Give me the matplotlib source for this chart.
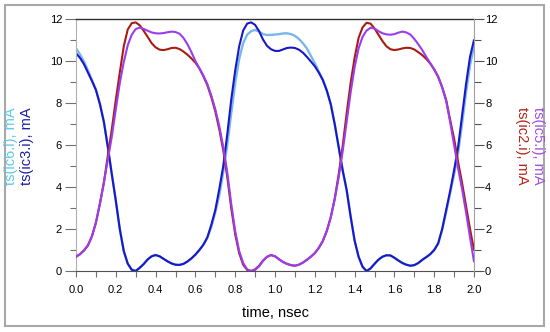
import numpy as np
import matplotlib
matplotlib.use("Agg")
import matplotlib.pyplot as plt
from matplotlib.ticker import MultipleLocator
from matplotlib.patches import Rectangle

plt.rcParams['font.family'] = ['Liberation Sans', 'DejaVu Sans']

# time grid, nsec
time_ns = np.linspace(0.0, 2.0, 101)

ic3 = [10.37, 10.15, 9.85, 9.45, 9.05, 8.62, 7.95, 7.1, 5.9, 4.6,
       3.35, 2.0, 0.95, 0.35, 0.06, 0.0, 0.15, 0.33, 0.55, 0.7,
       0.76, 0.7, 0.58, 0.46, 0.36, 0.3, 0.29, 0.34, 0.45, 0.6,
       0.78, 1.0, 1.25, 1.6, 2.2, 2.9, 3.9, 5.0, 6.5, 8.15,
       9.55, 10.7, 11.45, 11.78, 11.84, 11.72, 11.42, 11.02, 10.72, 10.56,
       10.48, 10.48, 10.55, 10.62, 10.64, 10.62, 10.54, 10.4, 10.2, 9.98,
       9.75, 9.45, 9.1, 8.6, 7.95, 7.0, 5.9, 4.8, 3.86, 2.6,
       1.45, 0.68, 0.2, 0.0, 0.12, 0.34, 0.54, 0.68, 0.75, 0.74,
       0.63, 0.5, 0.38, 0.3, 0.25, 0.28, 0.38, 0.53, 0.66, 0.8,
       1.0, 1.32, 2.0, 2.9, 3.8, 4.8, 5.9, 7.4, 8.9, 10.2,
       11.0]

ic6 = [10.6, 10.32, 9.98, 9.55, 9.1, 8.65, 7.98, 7.12, 5.92, 4.62,
       3.36, 2.0, 0.95, 0.35, 0.06, 0.0, 0.15, 0.33, 0.55, 0.7,
       0.76, 0.7, 0.58, 0.46, 0.36, 0.3, 0.29, 0.34, 0.45, 0.6,
       0.78, 1.0, 1.25, 1.58, 2.1, 2.8, 3.6, 4.7, 6.0, 7.5,
       8.95, 10.1, 10.85, 11.25, 11.42, 11.48, 11.4, 11.28, 11.24, 11.24,
       11.26, 11.28, 11.31, 11.32, 11.28, 11.2, 11.05, 10.85, 10.6, 10.25,
       9.9, 9.5, 9.12, 8.6, 7.95, 7.0, 5.9, 4.8, 3.86, 2.6,
       1.45, 0.68, 0.2, 0.0, 0.12, 0.34, 0.54, 0.68, 0.75, 0.74,
       0.63, 0.5, 0.38, 0.3, 0.25, 0.28, 0.38, 0.53, 0.66, 0.8,
       1.0, 1.3, 1.95, 2.8, 3.7, 4.6, 5.6, 7.0, 8.5, 9.8,
       10.7]

ic2 = [0.68, 0.8, 0.98, 1.22, 1.65, 2.3, 3.2, 4.2, 5.5, 6.75,
       8.15, 9.45, 10.7, 11.5, 11.8, 11.84, 11.7, 11.44, 11.15, 10.85,
       10.65, 10.54, 10.52, 10.56, 10.62, 10.63, 10.57, 10.45, 10.3, 10.12,
       9.92, 9.65, 9.28, 8.85, 8.28, 7.6, 6.75, 5.75, 4.5, 3.0,
       1.75, 0.85, 0.3, 0.05, 0.0, 0.08, 0.25, 0.5, 0.68, 0.76,
       0.7, 0.56, 0.43, 0.34, 0.28, 0.25, 0.3, 0.4, 0.53, 0.68,
       0.85, 1.1, 1.42, 1.9, 2.55, 3.45, 4.6, 5.95, 7.5, 8.95,
       10.15, 11.1, 11.6, 11.82, 11.78, 11.55, 11.25, 10.95, 10.7, 10.56,
       10.52, 10.55, 10.6, 10.63, 10.62, 10.55, 10.42, 10.28, 10.1, 9.88,
       9.6, 9.25, 8.75, 8.15, 7.2, 6.3, 5.2, 4.2, 3.1, 2.0,
       1.0]

ic5 = [0.68, 0.8, 0.98, 1.22, 1.65, 2.3, 3.2, 4.2, 5.3, 6.4,
       7.7, 8.95, 9.95, 10.75, 11.25, 11.52, 11.59, 11.53, 11.44, 11.36,
       11.32, 11.31, 11.33, 11.37, 11.4, 11.38, 11.3, 11.1, 10.8, 10.42,
       10.0, 9.65, 9.3, 8.9, 8.35, 7.7, 6.9, 5.9, 4.7, 3.2,
       1.9, 0.95, 0.38, 0.08, 0.0, 0.05, 0.22, 0.48, 0.67, 0.76,
       0.7, 0.56, 0.43, 0.34, 0.28, 0.25, 0.3, 0.4, 0.53, 0.68,
       0.85, 1.1, 1.42, 1.9, 2.55, 3.4, 4.45, 5.7, 7.1, 8.5,
       9.7, 10.6, 11.15, 11.45, 11.58, 11.55, 11.42, 11.32, 11.27, 11.25,
       11.28, 11.35, 11.4, 11.36, 11.26, 11.05, 10.8, 10.52, 10.2, 9.9,
       9.6, 9.25, 8.75, 8.1, 7.1, 6.0, 4.9, 3.9, 2.8, 1.6,
       0.45]

x_ticks = [0.0, 0.2, 0.4, 0.6, 0.8, 1.0, 1.2, 1.4, 1.6, 1.8, 2.0]
y_ticks = [0, 2, 4, 6, 8, 10, 12]

c_ic3 = '#1818c8'
c_ic6 = '#7ab6ec'
c_ic2 = '#a81c10'
c_ic5 = '#9c3cf0'

fig = plt.figure(figsize=(5.5, 3.32), dpi=100)
fig.patches.append(Rectangle((5/550, 6/332), 539/550, 321/332, transform=fig.transFigure,
                             fill=False, edgecolor='#a8a8a8', linewidth=1.5))

ax = fig.add_axes([76/550, 61/332, 398/550, 252/332])
ax2 = ax.twinx()

ax.plot(time_ns, ic6, color=c_ic6, lw=1.7, solid_capstyle='round')
ax.plot(time_ns, ic3, color=c_ic3, lw=1.5, solid_capstyle='round')
ax2.plot(time_ns, ic2, color=c_ic2, lw=1.5, solid_capstyle='round')
ax2.plot(time_ns, ic5, color=c_ic5, lw=1.5, solid_capstyle='round')

for a in (ax, ax2):
    a.set_xlim(0, 2.0)
    a.set_ylim(0, 12)
    a.set_yticks(y_ticks)
    a.yaxis.set_minor_locator(MultipleLocator(1))

ax.set_xticks(x_ticks)
ax.set_xticklabels([f"{v:.1f}" for v in x_ticks])
ax.xaxis.set_minor_locator(MultipleLocator(0.1))

ax.tick_params(axis='x', which='both', direction='out', length=4, width=0.8,
               color='#707070', labelsize=8, pad=6)
ax.tick_params(axis='y', which='major', direction='out', length=8, width=0.8,
               color='#707070', labelsize=8, pad=2)
ax.tick_params(axis='y', which='minor', direction='out', length=4.5, width=0.8,
               color='#707070')
ax2.tick_params(axis='y', which='major', direction='out', length=7, width=0.8,
                color='#505050', labelsize=8, pad=1)
ax2.tick_params(axis='y', which='minor', direction='out', length=5, width=0.8,
                color='#505050')

ax.spines['top'].set_color('#303030')
ax.spines['top'].set_linewidth(1.0)
ax.spines['left'].set_color('#b0b0b0')
ax.spines['bottom'].set_color('#505050')
ax.spines['right'].set_visible(False)
ax2.spines['top'].set_visible(False)
ax2.spines['left'].set_visible(False)
ax2.spines['bottom'].set_visible(False)
ax2.spines['right'].set_color('#a0a0a0')

ax.set_xlabel('time, nsec', fontsize=10.5, labelpad=8)

fig.text(11/550, 1 - 146/332, 'ts(ic6.i), mA', color='#5cc8ec', fontsize=10.5,
         rotation=90, ha='center', va='center')
fig.text(27/550, 1 - 146/332, 'ts(ic3.i), mA', color='#1c1ca8', fontsize=10.5,
         rotation=90, ha='center', va='center')
fig.text(522/550, 1 - 146/332, 'ts(ic2.i), mA', color='#b02418', fontsize=10.5,
         rotation=-90, ha='center', va='center')
fig.text(538/550, 1 - 146/332, 'ts(ic5.i), mA', color='#a04ce0', fontsize=10.5,
         rotation=-90, ha='center', va='center')

fig.savefig('out.png', dpi=100)
